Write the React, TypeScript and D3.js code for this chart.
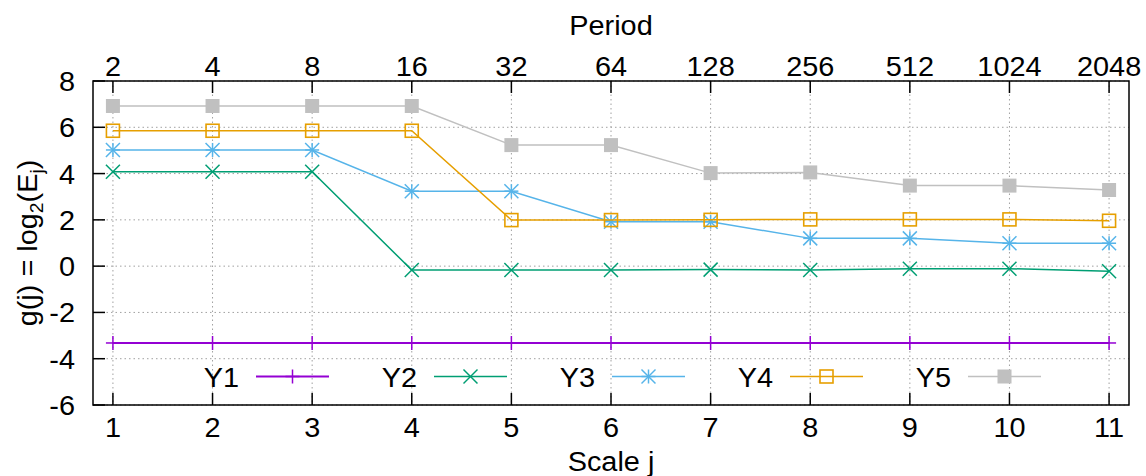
import React from "react";
import * as d3 from "d3";

const scales = [1, 2, 3, 4, 5, 6, 7, 8, 9, 10, 11];
const periods = ["2", "4", "8", "16", "32", "64", "128", "256", "512", "1024", "2048"];
const yTicks = [-6, -4, -2, 0, 2, 4, 6, 8];

const y1 = [-3.32, -3.32, -3.32, -3.32, -3.32, -3.32, -3.32, -3.32, -3.32, -3.32, -3.32];
const y2 = [4.08, 4.08, 4.08, -0.17, -0.17, -0.17, -0.15, -0.17, -0.11, -0.11, -0.22];
const y3 = [5.02, 5.02, 5.02, 3.24, 3.24, 1.92, 1.92, 1.2, 1.2, 0.99, 0.99];
const y4 = [5.85, 5.85, 5.85, 5.85, 1.99, 1.99, 2.0, 2.02, 2.02, 2.02, 1.96];
const y5 = [6.92, 6.92, 6.92, 6.92, 5.23, 5.23, 4.02, 4.05, 3.48, 3.48, 3.29];

const seriesNames = ["Y1", "Y2", "Y3", "Y4", "Y5"];
const seriesData = [y1, y2, y3, y4, y5];
const colors = ["#9400D3", "#009E73", "#56B4E9", "#E69F00", "#C0C0C0"];
const markers = ["plus", "cross", "star", "osquare", "fsquare"];

const W = 1146, H = 476;
const L = 93, R = 1129, T = 81, B = 405;
const FONT = "'Liberation Sans', Arial, sans-serif";
const FS = 27;
const SX = 1.07;

function T_({ x, y, anchor = "middle", children, size = FS }: any) {
  return (
    <text
      transform={`translate(${x},${y}) scale(${SX},1)`}
      textAnchor={anchor}
      fontFamily={FONT}
      fontSize={size}
      fill="#000"
    >
      {children}
    </text>
  );
}

function Marker({ type, x, y, color }: any) {
  const s = 7;
  if (type === "plus")
    return (
      <g stroke={color} strokeWidth={1.5}>
        <line x1={x - s} x2={x + s} y1={y} y2={y} />
        <line x1={x} x2={x} y1={y - s} y2={y + s} />
      </g>
    );
  if (type === "cross")
    return (
      <g stroke={color} strokeWidth={1.5}>
        <line x1={x - s} x2={x + s} y1={y - s} y2={y + s} />
        <line x1={x - s} x2={x + s} y1={y + s} y2={y - s} />
      </g>
    );
  if (type === "star")
    return (
      <g stroke={color} strokeWidth={1.5}>
        <line x1={x - s} x2={x + s} y1={y - s} y2={y + s} />
        <line x1={x - s} x2={x + s} y1={y + s} y2={y - s} />
        <line x1={x - s} x2={x + s} y1={y} y2={y} />
        <line x1={x} x2={x} y1={y - s} y2={y + s} />
      </g>
    );
  if (type === "osquare")
    return <rect x={x - 6.5} y={y - 6.5} width={13} height={13} fill="none" stroke={color} strokeWidth={1.6} />;
  return <rect x={x - 7} y={y - 7} width={14} height={14} fill={color} />;
}

export default function App() {
  const x = d3.scaleLinear().domain([0.8, 11.2]).range([L, R]);
  const y = d3.scaleLinear().domain([-6, 8]).range([B, T]);
  const line = d3
    .line<number>()
    .x((_, i) => x(scales[i]))
    .y((d) => y(d));

  const legendY = 376.5;
  const legendStart = 256;
  const legendStep = 178;
  const legendLen = 73;

  return (
    <svg width={W} height={H} style={{ position: "absolute", left: 0, top: 0, background: "#fff" }}>
      <rect width={W} height={H} fill="#fff" />
      {/* grid */}
      <g stroke="#a0a0a0" strokeWidth={1} strokeDasharray="1.5,3">
        {scales.map((s) => (
          <line key={"gx" + s} x1={x(s)} x2={x(s)} y1={T} y2={B} />
        ))}
        {yTicks.map((t) => (
          <line key={"gy" + t} x1={L} x2={R} y1={y(t)} y2={y(t)} />
        ))}
      </g>
      {/* ticks */}
      <g stroke="#000" strokeWidth={1.5}>
        {scales.map((s) => (
          <g key={"t" + s}>
            <line x1={x(s)} x2={x(s)} y1={B} y2={B - 12} />
            <line x1={x(s)} x2={x(s)} y1={T} y2={T + 12} />
          </g>
        ))}
        {yTicks.map((t) => (
          <line key={"ty" + t} x1={L} x2={L + 12} y1={y(t)} y2={y(t)} />
        ))}
      </g>
      {/* series */}
      {seriesData.map((d, k) => (
        <g key={"s" + k}>
          <path d={line(d) || ""} fill="none" stroke={colors[k]} strokeWidth={k === 0 ? 2 : 1.5} />
          {d.map((v, i) => (
            <Marker key={i} type={markers[k]} x={x(scales[i])} y={y(v)} color={colors[k]} />
          ))}
        </g>
      ))}
      {/* legend */}
      {seriesNames.map((n, k) => {
        const lx = legendStart + k * legendStep;
        return (
          <g key={"l" + k}>
            <T_ x={lx - 17} y={legendY + 10} anchor="end">
              {n}
            </T_>
            <line x1={lx} x2={lx + legendLen} y1={legendY} y2={legendY} stroke={colors[k]} strokeWidth={k === 0 ? 2 : 1.5} />
            <Marker type={markers[k]} x={lx + legendLen / 2} y={legendY} color={colors[k]} />
          </g>
        );
      })}
      {/* border */}
      <rect x={L} y={T} width={R - L} height={B - T} fill="none" stroke="#000" strokeWidth={1.5} />
      {/* tick labels */}
      {scales.map((s) => (
        <T_ key={"bl" + s} x={x(s)} y={437}>
          {String(s)}
        </T_>
      ))}
      {scales.map((s, i) => (
        <T_ key={"tl" + s} x={x(s)} y={76}>
          {periods[i]}
        </T_>
      ))}
      {yTicks.map((t) => (
        <T_ key={"yl" + t} x={75} y={y(t) + 10} anchor="end">
          {String(t)}
        </T_>
      ))}
      {/* titles */}
      <T_ x={(L + R) / 2} y={35}>
        Period
      </T_>
      <T_ x={(L + R) / 2} y={471}>
        Scale j
      </T_>
      <text
        transform={`translate(37,${(T + B) / 2}) rotate(-90) scale(${SX},1)`}
        textAnchor="middle"
        fontFamily={FONT}
        fontSize={FS}
      >
        g(j) = log<tspan fontSize={18} dy={6}>2</tspan>
        <tspan dy={-6}>(E</tspan>
        <tspan fontSize={18} dy={6}>j</tspan>
        <tspan dy={-6}>)</tspan>
      </text>
    </svg>
  );
}
